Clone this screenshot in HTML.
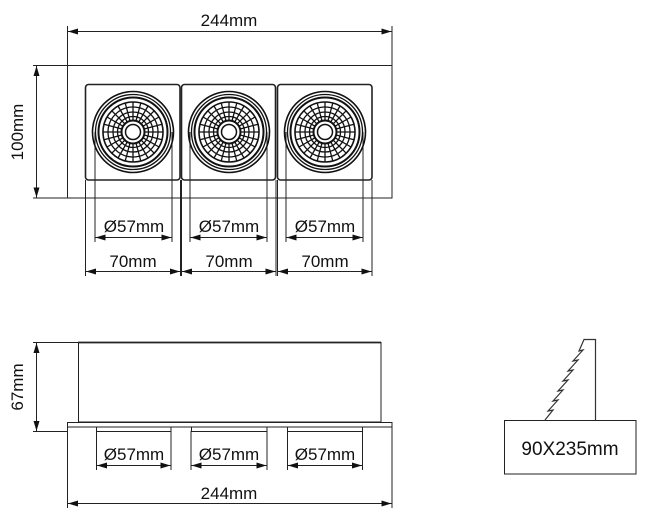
<!DOCTYPE html>
<html><head><meta charset="utf-8"><style>
html,body{margin:0;padding:0;background:#fff}
svg{display:block}
text{font-family:"Liberation Sans",Arial,sans-serif;fill:#111}
</style></head><body>
<svg width="658" height="528" viewBox="0 0 658 528" xmlns="http://www.w3.org/2000/svg">
<defs>
<marker id="a" viewBox="0 0 10 6" refX="10" refY="3" markerWidth="11" markerHeight="6" orient="auto-start-reverse" markerUnits="userSpaceOnUse"><path d="M0,0 L10,3 L0,6 z" fill="#111"/></marker>
<g id="lamp" fill="none" stroke="#111">
<circle r="40.5" stroke-width="1.6"/>
<circle r="37.5" stroke-width="1.3"/>
<circle r="34.5" stroke-width="2"/>
<circle r="30" stroke-width="1.6"/>
<circle r="25" stroke-width="1.3"/>
<circle r="20" stroke-width="1.3"/>
<circle r="15.5" stroke-width="1.3"/>
<circle r="11.5" stroke-width="2"/>
<circle r="7.5" stroke-width="1.5"/>
<g stroke-width="1.3">
<path d="M0,-11.5V-30M0,11.5V30M-11.5,0H-30M11.5,0H30"/>
<path d="M5.9,-10.3L15,-26M-5.9,-10.3L-15,-26M5.9,10.3L15,26M-5.9,10.3L-15,26M10.3,-5.9L26,-15M-10.3,-5.9L-26,-15M10.3,5.9L26,15M-10.3,5.9L-26,15"/>
<path d="M3,-11.1L7.8,-29M-3,-11.1L-7.8,-29M3,11.1L7.8,29M-3,11.1L-7.8,29M11.1,-3L29,-7.8M-11.1,-3L-29,-7.8M11.1,3L29,7.8M-11.1,3L-29,7.8M8.1,-8.1L21.2,-21.2M-8.1,-8.1L-21.2,-21.2M8.1,8.1L21.2,21.2M-8.1,8.1L-21.2,21.2"/>
</g>
</g>
</defs>
<g stroke="#222" fill="none" stroke-width="1">
<rect x="67.5" y="65.5" width="324.5" height="132.5"/>
<rect x="85.5" y="84.5" width="94.5" height="95.5" rx="3" stroke-width="1.6"/>
<rect x="181.5" y="84.5" width="94" height="95.5" rx="3" stroke-width="1.6"/>
<rect x="277.5" y="84.5" width="94.5" height="95.5" rx="3" stroke-width="1.6"/>
<path d="M67.5,65V26M392,65V26M33,65.5H67M33,198H67"/>
<line x1="68" y1="31.5" x2="391.5" y2="31.5" marker-start="url(#a)" marker-end="url(#a)"/>
<line x1="36.5" y1="66" x2="36.5" y2="197.5" marker-start="url(#a)" marker-end="url(#a)"/>
<path d="M85.5,180V276M180.5,180V276M181.5,180V276M276,180V276M277.5,180V276M372,180V276M95,132V242M172,132V242M190,132V242M267,132V242M286,132V242M363,132V242"/>
<line x1="95.5" y1="237.5" x2="171.5" y2="237.5" marker-start="url(#a)" marker-end="url(#a)"/>
<line x1="190.5" y1="237.5" x2="266.5" y2="237.5" marker-start="url(#a)" marker-end="url(#a)"/>
<line x1="286.5" y1="237.5" x2="362.5" y2="237.5" marker-start="url(#a)" marker-end="url(#a)"/>
<line x1="86" y1="271.5" x2="180" y2="271.5" marker-start="url(#a)" marker-end="url(#a)"/>
<line x1="182" y1="271.5" x2="275.5" y2="271.5" marker-start="url(#a)" marker-end="url(#a)"/>
<line x1="278" y1="271.5" x2="371.5" y2="271.5" marker-start="url(#a)" marker-end="url(#a)"/>
<rect x="78.5" y="342.5" width="302.5" height="79.5"/>
<line x1="78" y1="342.5" x2="381" y2="342.5" stroke-width="1.8"/>
<rect x="67.5" y="422.5" width="324.5" height="4.5"/>
<path d="M96.5,427V431.5H171V427M191.5,427V431.5H267V427M287.5,427V431.5H362.5V427"/>
<path d="M96.5,431V470M171,431V470M191,431V470M267,431V470M287.5,431V470M362.5,431V470M67.5,427V508M392,427V508M33,342.5H78M33,431.5H67"/>
<line x1="36.5" y1="343" x2="36.5" y2="431" marker-start="url(#a)" marker-end="url(#a)"/>
<line x1="97" y1="465.5" x2="170.5" y2="465.5" marker-start="url(#a)" marker-end="url(#a)"/>
<line x1="191.5" y1="465.5" x2="266.5" y2="465.5" marker-start="url(#a)" marker-end="url(#a)"/>
<line x1="288" y1="465.5" x2="362" y2="465.5" marker-start="url(#a)" marker-end="url(#a)"/>
<line x1="68" y1="503.5" x2="391.5" y2="503.5" marker-start="url(#a)" marker-end="url(#a)"/>
<rect x="504.5" y="420.5" width="131.5" height="53.5"/>
<path d="M545,420 L553,410 L548,411 L558,400 L553,401 L563,390 L558,391 L568,380 L563,381 L573,370 L568,371 L578,360 L573,361 L583,350 L579,351 L584,339.5 H595.5 V420" stroke="#333" stroke-width="1.2"/>
</g>
<use href="#lamp" x="133" y="132"/>
<use href="#lamp" x="229" y="132"/>
<use href="#lamp" x="325" y="132"/>
<g font-size="17" text-anchor="middle">
<text x="229" y="26">244mm</text>
<text transform="translate(23,132) rotate(-90)">100mm</text>
<text x="134" y="232">Ø57mm</text>
<text x="229" y="232">Ø57mm</text>
<text x="325" y="232">Ø57mm</text>
<text x="133" y="267">70mm</text>
<text x="229" y="267">70mm</text>
<text x="325" y="267">70mm</text>
<text transform="translate(23,387) rotate(-90)">67mm</text>
<text x="134" y="460">Ø57mm</text>
<text x="229" y="460">Ø57mm</text>
<text x="325" y="460">Ø57mm</text>
<text x="229" y="499">244mm</text>
<text x="570" y="455" font-size="19">90X235mm</text>
</g>
</svg>
</body></html>
